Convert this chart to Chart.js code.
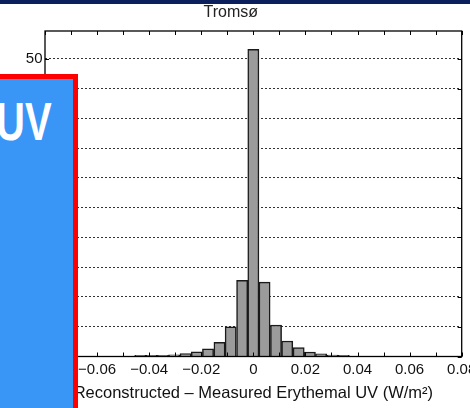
<!DOCTYPE html>
<html><head><meta charset="utf-8">
<script src="https://cdn.jsdelivr.net/npm/chart.js@4.4.1/dist/chart.umd.min.js"></script>
<style>
html,body{margin:0;padding:0;background:#fff;overflow:hidden}
#wrap{position:relative;width:470px;height:408px;overflow:hidden}
#c{position:absolute;left:0;top:0}
#band{position:absolute;left:0;top:0;width:470px;height:4px;background:#0b1f5c}
#box{position:absolute;left:-20px;top:73.5px;width:88px;height:360px;background:#3a96f6;border:5px solid #ff0000}
#uv{position:absolute;left:-4px;top:94.8px;font:bold 40px 'Liberation Sans',Arial,sans-serif;line-height:40px;color:#fff;transform:scaleY(1.33);transform-origin:0 0;white-space:nowrap}
</style></head>
<body>
<div id="wrap">
<canvas id="c" width="470" height="408"></canvas>
<div id="band"></div>
<div id="box"></div>
<div id="uv">UV</div>
</div>
<script>
// Histogram bin centres (W/m^2) and counts
const binCenters = [-0.0434,-0.0391,-0.0347,-0.0304,-0.0260,-0.0217,-0.0174,-0.0130,-0.0087,-0.0043,0,0.0043,0.0087,0.0130,0.0174,0.0217,0.0260,0.0304,0.0347];
const counts     = [0.2,0.2,0.2,0.3,0.5,0.8,1.3,2.4,5.0,12.8,51.6,12.5,5.3,2.6,1.5,0.75,0.45,0.25,0.2];
const xLabeledTicks = [-0.08,-0.06,-0.04,-0.02,0,0.02,0.04,0.06,0.08];
const titleText = 'Tromsø';
const xTitle = 'Reconstructed – Measured Erythemal UV (W/m²)';

const FONT = "'Liberation Sans', Arial, Helvetica, sans-serif";

const frame = {
  id: 'frame',
  afterDatasetsDraw(chart) {
    const {ctx, chartArea: a, scales: {x, y}} = chart;
    ctx.save();
    ctx.strokeStyle = '#000';
    ctx.lineWidth = 1;
    ctx.beginPath();
    x.ticks.forEach(t => {
      const px = Math.round(x.getPixelForValue(t.value)) + 0.5;
      ctx.moveTo(px, a.top); ctx.lineTo(px, a.top + 4);
      ctx.moveTo(px, a.bottom); ctx.lineTo(px, a.bottom - 4);
    });
    y.ticks.forEach(t => {
      const py = Math.round(y.getPixelForValue(t.value)) + 0.5;
      ctx.moveTo(a.left, py); ctx.lineTo(a.left + 4, py);
      ctx.moveTo(a.right, py); ctx.lineTo(a.right - 4, py);
    });
    ctx.stroke();
    ctx.lineWidth = 1.3;
    ctx.strokeRect(a.left, a.top, a.right - a.left, a.bottom - a.top);
    ctx.restore();
  }
};

new Chart(document.getElementById('c'), {
  type: 'bar',
  data: {
    datasets: [{
      data: binCenters.map((c, i) => ({x: c, y: counts[i]})),
      backgroundColor: '#9b9b9b',
      borderColor: '#1a1a1a',
      borderWidth: 1.5,
      barPercentage: 1,
      categoryPercentage: 1
    }]
  },
  options: {
    responsive: false,
    animation: false,
    layout: {padding: {left: 0, right: 8.3, top: 0, bottom: 0}},
    plugins: {
      legend: {display: false},
      tooltip: {enabled: false},
      title: {
        display: true, text: titleText, color: '#222',
        font: {family: FONT, size: 16, weight: 'normal'},
        padding: {top: 2.6, bottom: 9.2}
      }
    },
    scales: {
      x: {
        type: 'linear', min: -0.08, max: 0.08, offset: false,
        grid: {display: false, drawTicks: false},
        border: {display: false},
        ticks: {
          stepSize: 0.01, padding: 4, color: '#111', maxRotation: 0, autoSkip: false,
          font: {family: FONT, size: 15},
          callback: (v) => {
            const m = xLabeledTicks.find(t => Math.abs(t - v) < 1e-6);
            if (m === undefined) return '';
            return m === 0 ? '0' : (m < 0 ? '\u2212' + Math.abs(m).toFixed(2) : m.toFixed(2));
          }
        },
        title: {display: true, text: xTitle, color: '#111', font: {family: FONT, size: 16.5}, padding: {top: 0, bottom: 4.6}},
        afterFit(s) { s.height = 51.5; s.paddingLeft = 0; s.paddingRight = 0; }
      },
      y: {
        min: 0, max: 54.7,
        grid: {
          drawTicks: false,
          color: (c) => (c.tick && c.tick.value > 0 && c.tick.value <= 50) ? '#333' : 'rgba(0,0,0,0)',
          borderDash: [2, 2], lineWidth: 1
        },
        border: {display: false, dash: [2, 2]},
        ticks: {stepSize: 5, padding: 2.5, color: '#111', font: {family: FONT, size: 15}},
        afterBuildTicks(s) { s.ticks = s.ticks.filter(t => Math.abs(t.value / 5 - Math.round(t.value / 5)) < 1e-6); },
        afterFit(s) { s.width = 45; s.paddingTop = 0; s.paddingBottom = 0; }
      }
    }
  },
  plugins: [frame]
});
</script>
</body></html>
